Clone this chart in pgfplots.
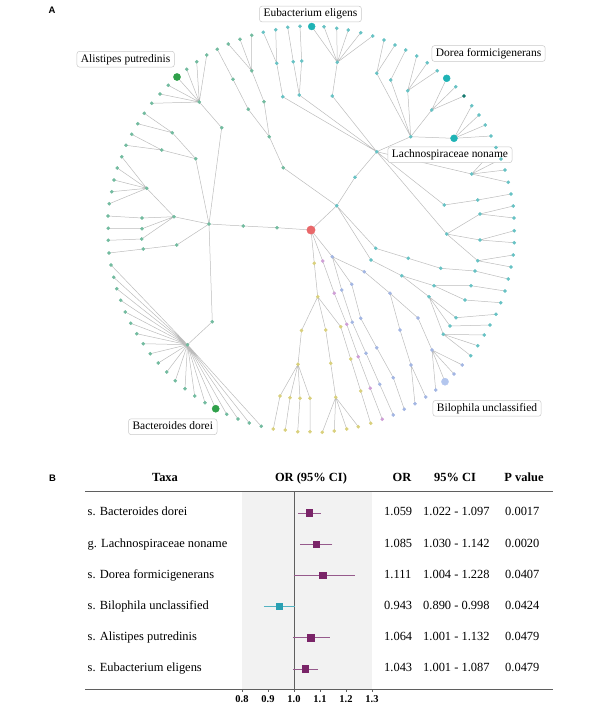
\documentclass[border=0pt]{standalone}
\usepackage{fontspec}
\setmainfont{Liberation Serif}
\newfontfamily\arialfont{Liberation Sans}
\usepackage{pgfplots}
\pgfplotsset{compat=1.18}
\definecolor{edgec}{RGB}{188,188,188}
\definecolor{cG}{RGB}{114,187,159}
\definecolor{cC}{RGB}{103,194,196}
\definecolor{cCbig}{RGB}{31,179,181}
\definecolor{cGbig}{RGB}{47,160,74}
\definecolor{cDark}{RGB}{22,122,112}
\definecolor{cB}{RGB}{163,182,227}
\definecolor{cBbig}{RGB}{179,198,238}
\definecolor{cP}{RGB}{207,159,214}
\definecolor{cY}{RGB}{217,208,124}
\definecolor{cR}{RGB}{233,104,106}
\definecolor{shade}{RGB}{242,242,242}
\definecolor{rulec}{RGB}{95,95,95}
\definecolor{purp}{RGB}{122,36,104}
\definecolor{purpl}{RGB}{150,90,140}
\definecolor{cyanb}{RGB}{42,160,179}
\definecolor{boxc}{RGB}{200,200,200}
\newcommand\rowfont{\fontsize{12.5}{14}\selectfont}
\begin{document}
\begin{tikzpicture}
\useasboundingbox (0,0) rectangle (600bp,-714bp);
% ---------------- forest plot axis ----------------
\begin{axis}[at={(242bp,-689.3bp)}, anchor=south west, scale only axis,
  width=130bp, height=197.6bp, xmin=0.8, xmax=1.3, ymin=0.324, ymax=6.657,
  y dir=reverse, hide y axis, axis x line*=bottom,
  axis line style={-,draw=rulec,line width=0.8pt},
  axis background/.style={fill=shade},
  xtick={0.8,0.9,1.0,1.1,1.2,1.3}, tick align=outside, major tick length=2.5pt,
  tick style={draw=rulec,line width=0.6pt},
  xticklabel style={font=\bfseries\fontsize{10.5}{12}\selectfont},
  /pgf/number format/fixed, /pgf/number format/fixed zerofill,
  /pgf/number format/precision=1, /pgf/number format/assume math mode=true,
  clip=false]
\addplot[draw=rulec, line width=0.9pt, no marks] coordinates {(1,0.324) (1,6.657)};
\addplot[only marks, mark=square*, mark size=3.2pt, color=purp,
  error bars/.cd, x dir=both, x explicit,
  error bar style={line width=0.6pt, color=purpl},
  error mark options={mark size=1.5pt, line width=0.5pt, color=purpl}]
  table[x=or, y=row, x error plus=ep, x error minus=em, row sep=\\] {
  row or ep em\\
  1 1.059 0.038 0.037\\
  2 1.085 0.057 0.055\\
  3 1.111 0.117 0.107\\
  5 1.064 0.068 0.063\\
  6 1.043 0.044 0.042\\
};
\addplot[only marks, mark=square*, mark size=3.2pt, color=cyanb,
  error bars/.cd, x dir=both, x explicit,
  error bar style={line width=0.6pt, color=cyanb!80},
  error mark options={mark size=1.5pt, line width=0.5pt, color=cyanb!80}]
  table[x=or, y=row, x error plus=ep, x error minus=em, row sep=\\] {
  row or ep em\\
  4 0.943 0.055 0.053\\
};
\end{axis}
% ---------------- pixel axis: dendrogram and table text ----------------
\begin{axis}[at={(0,0)}, anchor=north west, scale only axis,
  width=600bp, height=714bp, xmin=0, xmax=600, ymin=0, ymax=714,
  y dir=reverse, hide axis, clip=false, unbounded coords=jump]
% edges
\addplot[draw=edgec, line width=0.5pt, no marks] table[row sep=\\] {
x y\\
311 230\\ 277 227.7\\ 243.3 226\\ 209 224\\ 212.3 321.7\\ 187.5 344.7\\ nan nan\\
111 265\\ 187.5 344.7\\ 113.7 277.3\\ nan nan\\
116.7 288.7\\ 187.5 344.7\\ 120.7 300.3\\ nan nan\\
125.3 312\\ 187.5 344.7\\ 130.7 323.3\\ nan nan\\
136.7 333.7\\ 187.5 344.7\\ 143.3 343.7\\ nan nan\\
150.3 353.7\\ 187.5 344.7\\ 158.3 363\\ nan nan\\
166.7 372\\ 187.5 344.7\\ 175.3 380.7\\ nan nan\\
185 388.7\\ 187.5 344.7\\ 194.7 396\\ nan nan\\
205 402.7\\ 187.5 344.7\\ 215.7 408.7\\ nan nan\\
226.7 414.3\\ 187.5 344.7\\ 238 419\\ nan nan\\
249.3 423\\ 187.5 344.7\\ 261.3 426.3\\ nan nan\\
209 224\\ 174 216.7\\ 142 218\\ 108 216\\ nan nan\\
174 216.7\\ 142 228.7\\ 108.3 228.3\\ nan nan\\
174 216.7\\ 141.7 239\\ 108.3 240.3\\ nan nan\\
209 224\\ 176.7 245\\ 143.3 249\\ 109 253\\ nan nan\\
174 216.7\\ 146.7 188.3\\ 121.7 156.7\\ nan nan\\
117.3 168\\ 146.7 188.3\\ 114 180\\ nan nan\\
111.7 191.7\\ 146.7 188.3\\ 109.3 203.7\\ nan nan\\
209 224\\ 195.7 158.7\\ 172.3 132.7\\ 144.3 113.3\\ nan nan\\
172.3 132.7\\ 137.7 123.7\\ nan nan\\
195.7 158.7\\ 161.7 150\\ 131.7 134.3\\ nan nan\\
161.7 150\\ 126 145.3\\ nan nan\\
209 224\\ 221.7 127.7\\ 199.3 102\\ 151.7 103.3\\ nan nan\\
160 94\\ 199.3 102\\ 168.3 85.3\\ nan nan\\
177 77\\ 199.3 102\\ 186.7 69.3\\ nan nan\\
196.7 61.7\\ 199.3 102\\ 206.7 55\\ nan nan\\
311 230\\ 336.7 205.7\\ 355 177.3\\ 376.7 151.7\\ nan nan\\
336.7 205.7\\ 283.3 167.7\\ 269.3 136.7\\ 248.3 109.3\\ 233 79.3\\ 217.3 49.3\\ nan nan\\
269.3 136.7\\ 264 101.7\\ 251.7 70.7\\ 228.3 44\\ nan nan\\
240 39.3\\ 251.7 70.7\\ 251.7 35.3\\ nan nan\\
376.7 151.7\\ 282.7 96.7\\ 276.7 63.3\\ 263.3 32.3\\ nan nan\\
276.7 63.3\\ 275.7 29.7\\ nan nan\\
376.7 151.7\\ 299.3 95\\ 293.3 61.7\\ 287.7 27.3\\ nan nan\\
299.3 95\\ 301.7 61\\ 300 26.3\\ nan nan\\
376.7 151.7\\ 332.3 96\\ 337.3 62.3\\ 311.7 26.5\\ nan nan\\
324 26.7\\ 337.3 62.3\\ 336.7 28.3\\ nan nan\\
348.3 30\\ 337.3 62.3\\ 360.7 32.7\\ nan nan\\
337.3 62.3\\ 372.7 36\\ nan nan\\
376.7 151.7\\ 410.7 136.7\\ 376.7 73.3\\ 384 40\\ nan nan\\
376.7 73.3\\ 395 45\\ nan nan\\
410.7 136.7\\ 390.7 80\\ 405.7 50\\ nan nan\\
410.7 136.7\\ 407.7 90.7\\ 416.7 56\\ nan nan\\
427.3 62.7\\ 407.7 90.7\\ 437.3 70.7\\ nan nan\\
410.7 136.7\\ 431.7 110\\ 446.7 78.3\\ nan nan\\
455.7 86.7\\ 431.7 110\\ 464 96\\ nan nan\\
410.7 136.7\\ 454 138.3\\ 471.7 105.7\\ nan nan\\
479 115\\ 454 138.3\\ 485.3 125\\ nan nan\\
454 138.3\\ 491 136\\ nan nan\\
376.7 151.7\\ 471.7 174\\ 496 147.5\\ nan nan\\
501 159\\ 471.7 174\\ 505 170\\ nan nan\\
471.7 174\\ 508.3 182.3\\ nan nan\\
376.7 151.7\\ 444.3 205\\ 477.7 200\\ 511 194\\ nan nan\\
376.7 151.7\\ 446.7 234\\ 480 214\\ 513.3 206\\ nan nan\\
480 214\\ 514 218\\ nan nan\\
446.7 234\\ 480 240\\ 514.3 230.7\\ nan nan\\
480 240\\ 514.3 242.7\\ nan nan\\
446.7 234\\ 477.7 260.7\\ 513.3 255\\ nan nan\\
477.7 260.7\\ 511 267\\ nan nan\\
336.7 205.7\\ 375.7 248.3\\ 408.3 258.3\\ 440.7 268.3\\ 475 271\\ 508.3 279\\ nan nan\\
336.7 205.7\\ 371 260\\ 401.7 275.7\\ 434 285.7\\ 471 285.7\\ 505 291\\ nan nan\\
434 285.7\\ 465 300\\ 500.7 302.7\\ nan nan\\
401.7 275.7\\ 429 296.7\\ 456 317.7\\ 496 314.3\\ nan nan\\
429 296.7\\ 450 326\\ 490 325\\ nan nan\\
429 296.7\\ 443.3 334.3\\ 484.3 335\\ nan nan\\
477.7 345.7\\ 443.3 334.3\\ 470.7 355.7\\ nan nan\\
311 230\\ 332.3 256.7\\ 341.7 290\\ 352.3 322.3\\ 366 353.3\\ 379.7 384.3\\ 393.3 415\\ nan nan\\
332.3 256.7\\ 351.7 284.3\\ 360.7 318.3\\ 376.7 347.7\\ 393.3 377.7\\ 404.3 409.3\\ nan nan\\
332.3 256.7\\ 364.3 271.7\\ 390 293.3\\ 400 330\\ 411 365\\ 415 403.7\\ nan nan\\
411 365\\ 425.7 397\\ nan nan\\
390 293.3\\ 418 318\\ 432 350\\ 445 381.7\\ nan nan\\
435.7 390\\ 432 350\\ 454 374\\ nan nan\\
432 350\\ 462.3 365\\ nan nan\\
311 230\\ 322.7 261\\ 334.3 293.3\\ 346.7 324.3\\ 358.3 356.7\\ 370.3 388.3\\ 382.3 419.3\\ nan nan\\
311 230\\ 314.3 263.3\\ 317.7 296.7\\ 301.5 330.5\\ 298 364.3\\ 280 396\\ 273.3 429\\ nan nan\\
298 364.3\\ 290 397.7\\ 285.3 430\\ nan nan\\
298 364.3\\ 300 398.3\\ 297.7 431.7\\ nan nan\\
298 364.3\\ 310 398.3\\ 310 431.7\\ nan nan\\
317.7 296.7\\ 325.7 330\\ 330.7 363.3\\ 335.7 397.3\\ 322.3 432.3\\ nan nan\\
334.3 431\\ 335.7 397.3\\ 346.7 429\\ nan nan\\
335.7 397.3\\ 358.3 426.7\\ nan nan\\
317.7 296.7\\ 340.7 326.7\\ 350.7 359\\ 360.7 391\\ 370.7 423.3\\
};
% nodes: green-teal
\addplot[only marks, mark=*, mark size=1.6pt, color=cG] table[row sep=\\] {
x y\\
277 227.7\\ 243.3 226\\ 209 224\\ 212.3 321.7\\ 187.5 344.7\\ 174 216.7\\ 142 218\\ 142 228.7\\
141.7 239\\ 176.7 245\\ 143.3 249\\ 146.7 188.3\\ 195.7 158.7\\ 172.3 132.7\\ 161.7 150\\ 221.7 127.7\\ 199.3 102\\
111 265\\ 113.7 277.3\\ 116.7 288.7\\ 120.7 300.3\\ 125.3 312\\ 130.7 323.3\\ 136.7 333.7\\ 143.3 343.7\\
150.3 353.7\\ 158.3 363\\ 166.7 372\\ 175.3 380.7\\ 185 388.7\\ 194.7 396\\ 205 402.7\\ 226.7 414.3\\
238 419\\ 249.3 423\\ 261.3 426.3\\
108 216\\ 108.3 228.3\\ 108.3 240.3\\ 109 253\\ 121.7 156.7\\ 117.3 168\\ 114 180\\ 111.7 191.7\\ 109.3 203.7\\
144.3 113.3\\ 137.7 123.7\\ 131.7 134.3\\ 126 145.3\\
151.7 103.3\\ 160 94\\ 168.3 85.3\\ 186.7 69.3\\ 196.7 61.7\\ 206.7 55\\
283.3 167.7\\ 269.3 136.7\\ 248.3 109.3\\ 233 79.3\\ 264 101.7\\ 251.7 70.7\\
217.3 49.3\\ 228.3 44\\ 240 39.3\\ 251.7 35.3\\
};
% nodes: cyan
\addplot[only marks, mark=*, mark size=1.6pt, color=cC] table[row sep=\\] {
x y\\
336.7 205.7\\ 355 177.3\\ 376.7 151.7\\
282.7 96.7\\ 276.7 63.3\\ 263.3 32.3\\ 275.7 29.7\\ 299.3 95\\ 293.3 61.7\\ 287.7 27.3\\ 301.7 61\\ 300 26.3\\
332.3 96\\ 337.3 62.3\\ 324 26.7\\ 336.7 28.3\\ 348.3 30\\ 360.7 32.7\\ 372.7 36\\
410.7 136.7\\ 376.7 73.3\\ 384 40\\ 395 45\\ 390.7 80\\ 405.7 50\\ 407.7 90.7\\ 416.7 56\\ 427.3 62.7\\
437.3 70.7\\ 431.7 110\\ 455.7 86.7\\
471.7 105.7\\ 479 115\\ 485.3 125\\ 491 136\\
471.7 174\\ 496 147.5\\ 501 159\\ 505 170\\ 508.3 182.3\\
444.3 205\\ 477.7 200\\ 511 194\\
446.7 234\\ 480 214\\ 513.3 206\\ 514 218\\ 480 240\\ 514.3 230.7\\ 514.3 242.7\\ 477.7 260.7\\ 513.3 255\\ 511 267\\
375.7 248.3\\ 408.3 258.3\\ 440.7 268.3\\ 475 271\\ 508.3 279\\
371 260\\ 401.7 275.7\\ 434 285.7\\ 471 285.7\\ 505 291\\ 465 300\\ 500.7 302.7\\
429 296.7\\ 456 317.7\\ 496 314.3\\ 450 326\\ 490 325\\
443.3 334.3\\ 484.3 335\\ 477.7 345.7\\ 470.7 355.7\\
};
% nodes: blue
\addplot[only marks, mark=*, mark size=1.6pt, color=cB] table[row sep=\\] {
x y\\
332.3 256.7\\ 341.7 290\\ 352.3 322.3\\ 366 353.3\\ 379.7 384.3\\ 393.3 415\\
351.7 284.3\\ 360.7 318.3\\ 376.7 347.7\\ 393.3 377.7\\ 404.3 409.3\\
364.3 271.7\\ 390 293.3\\ 400 330\\ 411 365\\ 415 403.7\\ 425.7 397\\
418 318\\ 432 350\\ 435.7 390\\ 454 374\\ 462.3 365\\
};
% nodes: pink
\addplot[only marks, mark=*, mark size=1.6pt, color=cP] table[row sep=\\] {
x y\\
322.7 261\\ 334.3 293.3\\ 346.7 324.3\\ 358.3 356.7\\ 370.3 388.3\\ 382.3 419.3\\
};
% nodes: yellow
\addplot[only marks, mark=*, mark size=1.6pt, color=cY] table[row sep=\\] {
x y\\
314.3 263.3\\ 317.7 296.7\\ 301.5 330.5\\ 298 364.3\\ 280 396\\ 273.3 429\\ 290 397.7\\ 285.3 430\\
300 398.3\\ 297.7 431.7\\ 310 398.3\\ 310 431.7\\ 325.7 330\\ 330.7 363.3\\ 335.7 397.3\\ 322.3 432.3\\
334.3 431\\ 346.7 429\\ 358.3 426.7\\ 340.7 326.7\\ 350.7 359\\ 360.7 391\\ 370.7 423.3\\
};
% highlighted nodes
\addplot[only marks, mark=*, mark size=1.7pt, color=cDark] table[row sep=\\] {x y\\ 464 96\\};
\addplot[only marks, mark=*, mark size=3.5pt, color=cCbig] table[row sep=\\] {x y\\ 311.7 26.5\\ 446.7 78.3\\ 454 138.3\\};
\addplot[only marks, mark=*, mark size=3.6pt, color=cGbig] table[row sep=\\] {x y\\ 177 77\\ 215.7 408.7\\};
\addplot[only marks, mark=*, mark size=3.6pt, color=cBbig] table[row sep=\\] {x y\\ 445 381.7\\};
\addplot[only marks, mark=*, mark size=4.2pt, color=cR] table[row sep=\\] {x y\\ 311 230\\};
% label boxes
\tikzset{lbl/.style={draw=boxc, fill=white, rounded corners=2.5pt, inner xsep=4pt, inner ysep=2.5pt,
  text height=8.2pt, text depth=2.6pt,
  line width=0.5pt, anchor=west, font=\fontsize{11.5}{13}\selectfont}}
\node[lbl] at (axis cs:259.3,14) {Eubacterium eligens};
\node[lbl] at (axis cs:76.7,59.2) {Alistipes putredinis};
\node[lbl] at (axis cs:431.7,53.5) {Dorea formicigenerans};
\node[lbl] at (axis cs:387.7,154.8) {Lachnospiraceae noname};
\node[lbl] at (axis cs:128.3,426.7) {Bacteroides dorei};
\node[lbl] at (axis cs:432.7,408.3) {Bilophila unclassified};
\node[font=\arialfont\bfseries\fontsize{9.5}{11}\selectfont] at (axis cs:52,10) {A};
\node[font=\arialfont\bfseries\fontsize{9.5}{11}\selectfont] at (axis cs:52.5,478.6) {B};
% table rules
\addplot[draw=rulec, line width=0.8pt, no marks] coordinates {(85,491.7) (553,491.7)};
\addplot[draw=rulec, line width=0.8pt, no marks] coordinates {(85,689.3) (553,689.3)};
% headers
\tikzset{ht/.style={inner sep=0pt, text height=8.8pt, text depth=2.8pt, font=\bfseries\rowfont}}
\node[ht] at (axis cs:165,478.6) {Taxa};
\node[ht] at (axis cs:311,478.6) {OR (95\% CI)};
\node[ht] at (axis cs:402,478.6) {OR};
\node[ht] at (axis cs:455,478.6) {95\% CI};
\node[ht] at (axis cs:524,478.6) {P value};
% rows
\tikzset{rt/.style={anchor=west, inner sep=0pt, text height=8.8pt, text depth=2.8pt, font=\rowfont}}
\node[rt] at (axis cs:87.5,512.8) {s. Bacteroides dorei};
\node[rt] at (axis cs:87.5,544.0) {g. Lachnospiraceae noname};
\node[rt] at (axis cs:87.5,575.2) {s. Dorea formicigenerans};
\node[rt] at (axis cs:87.5,606.4) {s. Bilophila unclassified};
\node[rt] at (axis cs:87.5,637.6) {s. Alistipes putredinis};
\node[rt] at (axis cs:87.5,668.8) {s. Eubacterium eligens};
\node[rt] at (axis cs:384,512.8) {1.059};
\node[rt] at (axis cs:384,544.0) {1.085};
\node[rt] at (axis cs:384,575.2) {1.111};
\node[rt] at (axis cs:384,606.4) {0.943};
\node[rt] at (axis cs:384,637.6) {1.064};
\node[rt] at (axis cs:384,668.8) {1.043};
\node[rt] at (axis cs:423,512.8) {1.022 - 1.097};
\node[rt] at (axis cs:423,544.0) {1.030 - 1.142};
\node[rt] at (axis cs:423,575.2) {1.004 - 1.228};
\node[rt] at (axis cs:423,606.4) {0.890 - 0.998};
\node[rt] at (axis cs:423,637.6) {1.001 - 1.132};
\node[rt] at (axis cs:423,668.8) {1.001 - 1.087};
\node[rt] at (axis cs:505,512.8) {0.0017};
\node[rt] at (axis cs:505,544.0) {0.0020};
\node[rt] at (axis cs:505,575.2) {0.0407};
\node[rt] at (axis cs:505,606.4) {0.0424};
\node[rt] at (axis cs:505,637.6) {0.0479};
\node[rt] at (axis cs:505,668.8) {0.0479};
\end{axis}
\end{tikzpicture}
\end{document}
